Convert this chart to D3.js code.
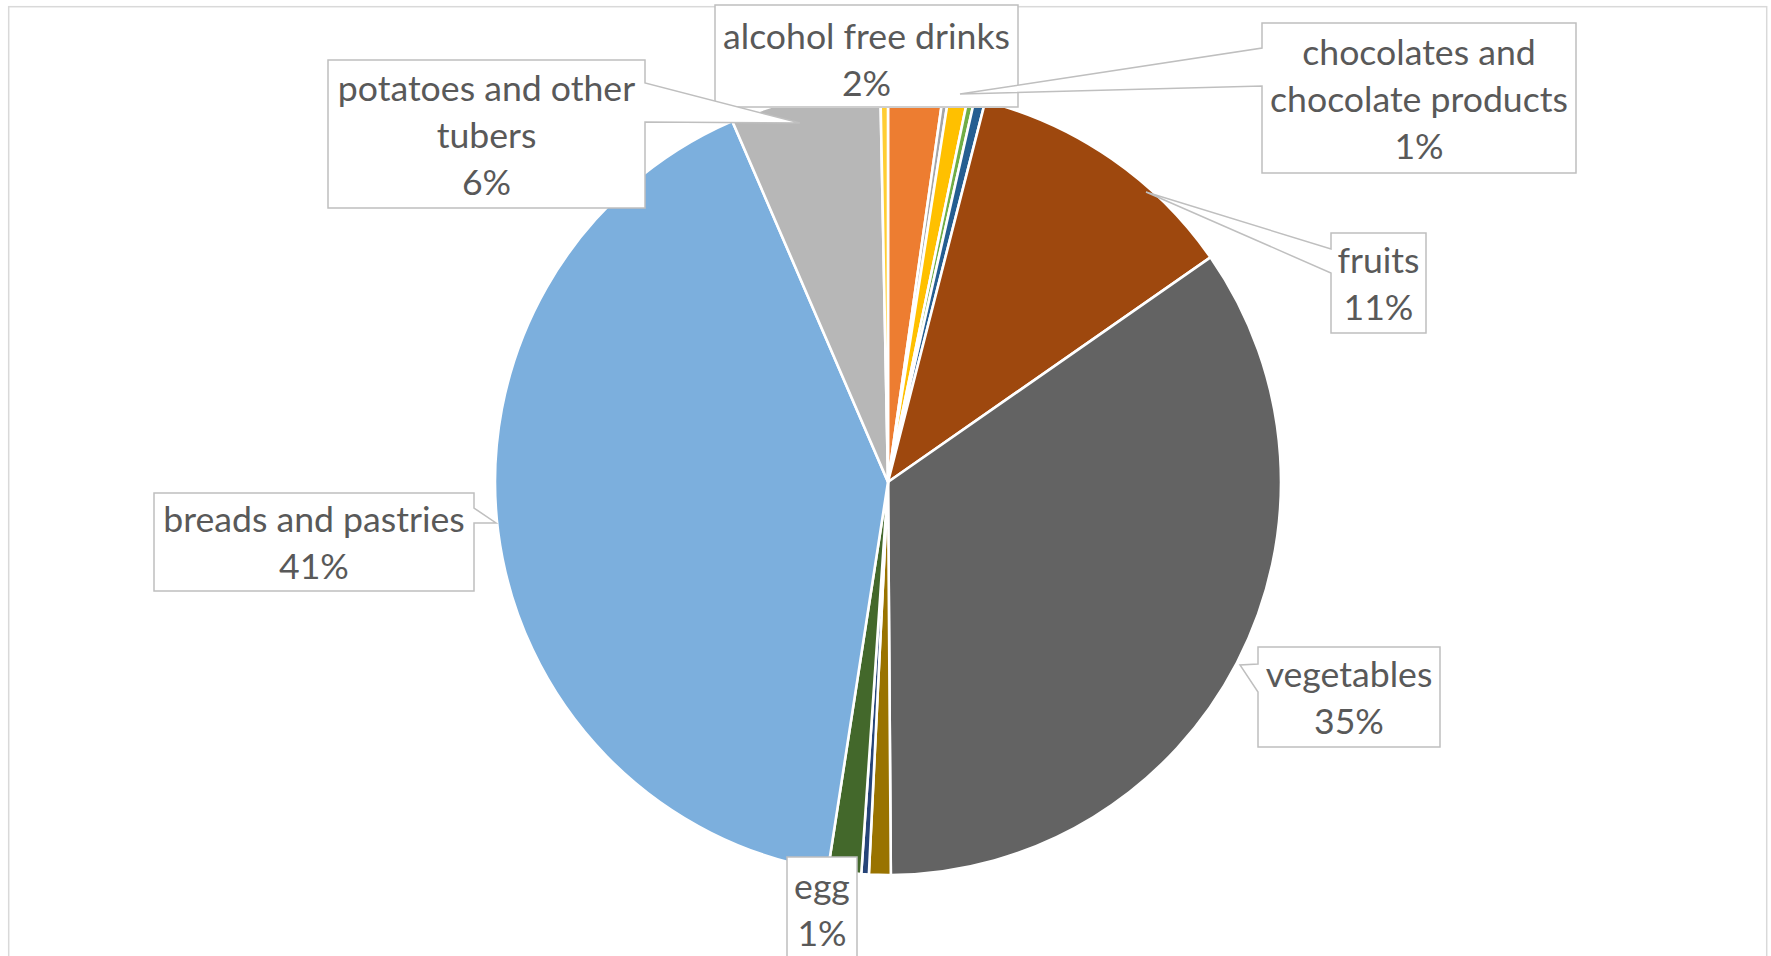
<!DOCTYPE html>
<html>
<head>
<meta charset="utf-8">
<script src="https://cdn.jsdelivr.net/npm/d3@7"></script>
<style>
  html, body { margin: 0; padding: 0; background: #fff; }
  svg { display: block; }
</style>
</head>
<body>
<script>
// slices clockwise from 12 o'clock (share of total, %)
const categories = [
    "alcohol free drinks", "unlabelled 1", "chocolates and chocolate products",
    "unlabelled 2", "unlabelled 3", "fruits", "vegetables", "unlabelled 4",
    "unlabelled 5", "egg", "breads and pastries", "potatoes and other tubers",
    "unlabelled 6"
]
const values = [2.25, 0.23, 0.78, 0.28, 0.44, 11.33, 34.56, 0.89, 0.31, 1.36, 41.06, 6.17, 0.31]
const colors = ["#ED7D31", "#A5A5A5", "#FFC000", "#70AD47", "#255E91", "#9E480E",
    "#636363", "#997300", "#264478", "#43682B", "#7CAFDD", "#B7B7B7", "#FFCD33"]

// which slices show a label, and the text lines of it
const labelLines = {
    "alcohol free drinks": ["alcohol free drinks"],
    "chocolates and chocolate products": ["chocolates and", "chocolate products"],
    "fruits": ["fruits"],
    "vegetables": ["vegetables"],
    "egg": ["egg"],
    "breads and pastries": ["breads and pastries"],
    "potatoes and other tubers": ["potatoes and other", "tubers"]
}

//------------------------------------------------------------------------------

const width = 1771
const height = 956
const cx = 888, cy = 482, radius = 393
const plotTop = 108

// callout boxes: [x, y, w, h], side of the pointer, pointer base, pointer tip
const callouts = {
    "alcohol free drinks": { box: [715, 5, 303, 102], shift: 3 },
    "chocolates and chocolate products": { box: [1262, 23, 314, 150], side: "left", base: [48, 86], tip: [960, 94] },
    "fruits": { box: [1331, 233, 95, 100], side: "left", base: [249, 273], tip: [1146, 192] },
    "vegetables": { box: [1258, 647, 182, 100], side: "left", base: [664, 692], tip: [1240, 665] },
    "egg": { box: [787, 857, 70, 104] },
    "breads and pastries": { box: [154, 493, 320, 98], side: "right", base: [508, 523], tip: [496, 523] },
    "potatoes and other tubers": { box: [328, 60, 317, 148], side: "right", base: [83, 122], tip: [800, 123] }
}

const svg = d3.select("body")
    .append("svg")
    .attr("width", width)
    .attr("height", height)

svg.append("rect")
    .attr("x", 8.7)
    .attr("y", 6.7)
    .attr("width", 1758)
    .attr("height", 1000)
    .attr("fill", "#fff")
    .attr("stroke", "#D9D9D9")
    .attr("stroke-width", 1.5)

svg.append("clipPath")
    .attr("id", "plot-clip")
    .append("rect")
    .attr("x", 0)
    .attr("y", plotTop)
    .attr("width", width)
    .attr("height", height)

//------------------------------------------------------------------------------

const data = categories.map((c, i) => ({ name: c, value: values[i], color: colors[i] }))
const total = d3.sum(values)

const pie = d3.pie()
    .sort(null)
    .value(d => d.value)

const arc = d3.arc()
    .innerRadius(0)
    .outerRadius(radius)

svg.append("g")
    .attr("clip-path", "url(#plot-clip)")
    .append("g")
    .attr("transform", "translate(" + cx + "," + cy + ")")
    .selectAll("path")
    .data(pie(data))
    .join("path")
    .attr("d", arc)
    .attr("fill", d => d.data.color)
    .attr("stroke", "#fff")
    .attr("stroke-width", 2.6)
    .attr("stroke-linejoin", "round")

//------------------------------------------------------------------------------

function calloutPath(c) {
    const [x, y, w, h] = c.box
    if (!c.side) {
        return "M" + x + "," + y + "H" + (x + w) + "V" + (y + h) + "H" + x + "Z"
    }
    if (c.side == "left") {
        return "M" + x + "," + y + "H" + (x + w) + "V" + (y + h) + "H" + x +
            "V" + c.base[1] + "L" + c.tip[0] + "," + c.tip[1] + "L" + x + "," + c.base[0] + "Z"
    }
    return "M" + x + "," + y + "H" + (x + w) + "V" + c.base[0] +
        "L" + c.tip[0] + "," + c.tip[1] + "L" + (x + w) + "," + c.base[1] +
        "V" + (y + h) + "H" + x + "Z"
}

const pct = d3.format(".0f")

// fit font size so that it matches the label widths of the picture
const probe = svg.append("text")
    .attr("font-family", "Lato, sans-serif")
    .attr("font-size", 38)
    .text("alcohol free drinks")
const fontSize = 38 * 287 / probe.node().getComputedTextLength()
probe.remove()
const lineGap = 47

const labels = svg.append("g")

data.forEach(d => {
    if (!labelLines[d.name]) return
    const c = callouts[d.name]
    const lines = labelLines[d.name].concat([pct(d.value / total * 100) + "%"])
    const g = labels.append("g")
    g.append("path")
        .attr("d", calloutPath(c))
        .attr("fill", "#fff")
        .attr("stroke", "#BFBFBF")
        .attr("stroke-width", 1.5)
    const [x, y, w, h] = c.box
    const firstBaseline = y + h / 2 - (lines.length - 1) * lineGap / 2 + fontSize * 0.38 + (c.shift || 0)
    g.selectAll("text")
        .data(lines)
        .join("text")
        .attr("x", x + w / 2)
        .attr("y", (t, i) => firstBaseline + i * lineGap)
        .attr("text-anchor", "middle")
        .attr("font-family", "Lato, sans-serif")
        .attr("font-size", fontSize)
        .attr("fill", "#595959")
        .text(t => t)
})
</script>
</body>
</html>
